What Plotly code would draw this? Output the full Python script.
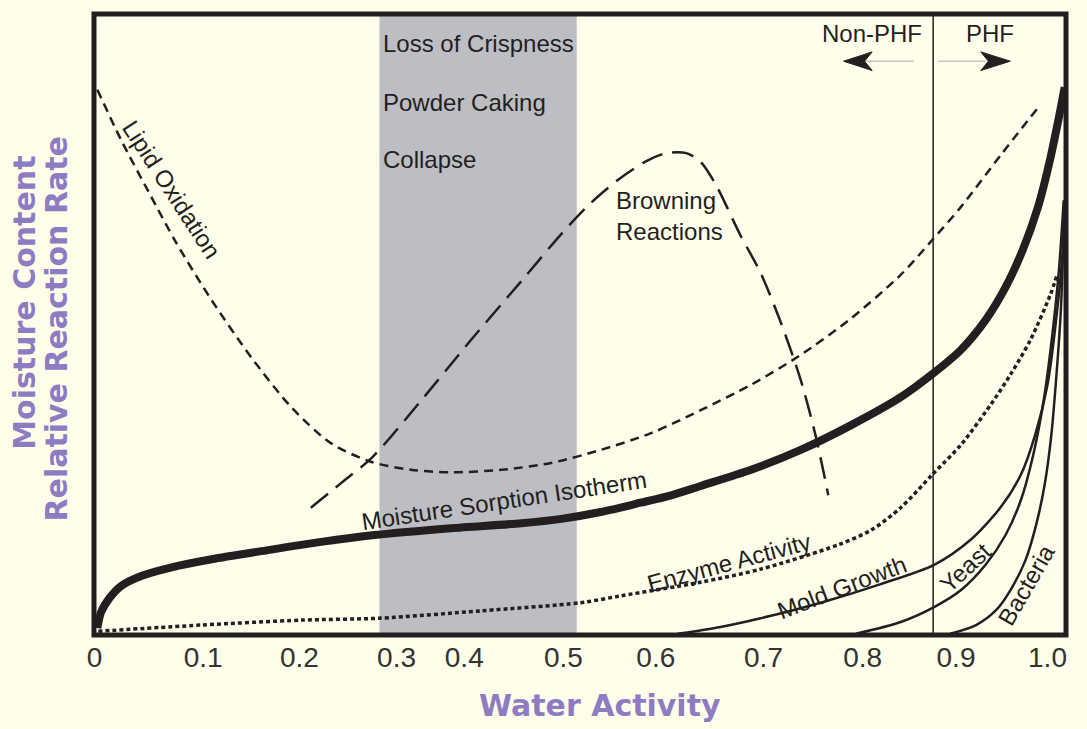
import plotly.graph_objects as go

# ---------------- data (x in water-activity axis position, y in relative units 0-100) ----
tick_vals = [0.0, 0.114, 0.215, 0.317, 0.388, 0.492, 0.589, 0.702, 0.806, 0.904, 1.0]
tick_text = ["0", "0.1", "0.2", "0.3", "0.4", "0.5", "0.6", "0.7", "0.8", "0.9", "1.0"]

iso_x = [0.003, 0.007, 0.016, 0.028, 0.049, 0.081, 0.123, 0.175, 0.238, 0.294, 0.374, 0.448,
         0.490, 0.531, 0.573, 0.605, 0.636, 0.689, 0.741, 0.794, 0.846, 0.879, 0.909, 0.935,
         0.956, 0.974, 0.990, 1.002, 1.012, 1.018]
iso_y = [1.1, 3.7, 6.0, 7.9, 9.5, 10.9, 12.2, 13.5, 15.0, 16.1, 17.2, 18.0,
         18.7, 19.8, 21.3, 22.5, 24.0, 26.6, 29.8, 33.8, 38.3, 42.0, 45.9, 50.7,
         56.0, 62.0, 68.9, 76.1, 83.4, 88.2]

lipid_x = [0.003, 0.028, 0.057, 0.086, 0.123, 0.165, 0.207, 0.248, 0.290, 0.332, 0.374, 0.427,
           0.479, 0.531, 0.584, 0.636, 0.689, 0.741, 0.794, 0.846, 0.879, 0.909, 0.951, 0.990]
lipid_y = [87.8, 79.7, 71.3, 63.1, 53.9, 44.6, 36.6, 30.9, 27.9, 26.6, 26.2, 26.6,
           27.7, 29.8, 32.5, 36.2, 40.3, 45.1, 51.0, 58.0, 63.6, 68.9, 77.3, 84.9]

brown_x = [0.227, 0.259, 0.292, 0.343, 0.395, 0.448, 0.490, 0.521, 0.552, 0.579, 0.600, 0.621,
           0.636, 0.652, 0.678, 0.699, 0.720, 0.741, 0.757, 0.770]
brown_y = [20.5, 24.5, 28.7, 37.8, 47.5, 57.0, 64.6, 69.6, 73.6, 76.3, 77.6, 77.6,
           76.2, 72.5, 64.3, 58.3, 50.4, 41.1, 31.9, 22.5]

enzyme_x = [0.004, 0.112, 0.217, 0.298, 0.406, 0.510, 0.552, 0.636, 0.699, 0.780, 0.815, 0.846,
            0.879, 0.909, 0.940, 0.961, 0.982, 1.003, 1.010]
enzyme_y = [0.6, 1.6, 2.4, 2.7, 3.9, 5.2, 6.3, 8.5, 10.6, 14.5, 16.9, 20.5,
            25.8, 30.6, 37.0, 41.9, 47.5, 54.8, 58.0]

mold_x = [0.612, 0.657, 0.699, 0.762, 0.825, 0.881, 0.919, 0.951, 0.972, 0.987, 1.000, 1.009,
          1.016, 1.018]
mold_y = [0.2, 1.3, 2.7, 5.2, 8.2, 11.3, 15.3, 20.6, 25.8, 32.2, 40.3, 50.7, 62.0, 70.0]

yeast_x = [0.799, 0.846, 0.881, 0.909, 0.935, 0.956, 0.972, 0.985, 0.996, 1.005, 1.012, 1.017]
yeast_y = [0.2, 2.1, 4.5, 7.2, 11.3, 16.1, 21.7, 29.0, 37.8, 48.3, 58.8, 70.0]

bact_x = [0.898, 0.925, 0.946, 0.961, 0.977, 0.988, 0.997, 1.004, 1.009, 1.014, 1.017]
bact_y = [0.2, 1.6, 4.0, 7.2, 12.1, 17.7, 24.2, 32.2, 41.1, 52.3, 65.2]

band_range = [0.299, 0.506]     # glassy/texture zone
phf_x = 0.880                   # PHF boundary

# ---------------- styling ----------------
BG = "#FFFEEB"
INK = "#231F20"
PURPLE = "#8E7CC3"
LBL = dict(family="Liberation Sans, Arial, sans-serif", size=24, color=INK)

fig = go.Figure()

def add_line(x, y, width, dash="solid", smoothing=0.8):
    fig.add_trace(go.Scatter(x=x, y=y, mode="lines",
                             line=dict(color=INK, width=width, dash=dash, shape="spline",
                                       smoothing=smoothing),
                             hoverinfo="skip", showlegend=False))

add_line(lipid_x, lipid_y, 2.5, "9px,6px")
add_line(brown_x, brown_y, 2.5, "22px,10px")
add_line(enzyme_x, enzyme_y, 3.5, "4px,3px")
add_line(mold_x, mold_y, 2.5)
add_line(yeast_x, yeast_y, 2.5)
add_line(bact_x, bact_y, 2.5)
add_line(iso_x, iso_y, 8)

# grey band
fig.add_shape(type="rect", xref="x", yref="y", x0=band_range[0], x1=band_range[1], y0=0, y1=100,
              fillcolor="#BDBEC3", line=dict(width=0), layer="below")
# PHF line
fig.add_shape(type="line", xref="x", yref="y", x0=phf_x, x1=phf_x, y0=0, y1=100,
              line=dict(color=INK, width=1.5))
# arrows: shafts
fig.add_shape(type="line", xref="x", yref="y", x0=0.803, x1=0.860, y0=92.4, y1=92.4,
              line=dict(color="#AAAAAA", width=1))
fig.add_shape(type="line", xref="x", yref="y", x0=0.885, x1=0.935, y0=92.4, y1=92.4,
              line=dict(color="#AAAAAA", width=1))
# arrow heads
fig.add_shape(type="path", xref="x", yref="y",
              path="M 0.786 92.4 L 0.816 93.9 L 0.808 92.4 L 0.816 90.9 Z",
              fillcolor=INK, line=dict(color=INK, width=1))
fig.add_shape(type="path", xref="x", yref="y",
              path="M 0.961 92.4 L 0.930 93.9 L 0.938 92.4 L 0.930 90.9 Z",
              fillcolor=INK, line=dict(color=INK, width=1))
# frame
fig.add_shape(type="rect", xref="paper", yref="paper", x0=0, x1=1, y0=0, y1=1,
              line=dict(color=INK, width=5), layer="above")

def label(text, x, y, angle=0, xanchor="center", align="center"):
    fig.add_annotation(x=x, y=y, xref="x", yref="y", text=text, showarrow=False,
                       textangle=angle, xanchor=xanchor, yanchor="middle", align=align, font=LBL)

label("Loss of Crispness", 0.301, 95.2, xanchor="left")
label("Powder Caking", 0.301, 85.7, xanchor="left")
label("Collapse", 0.301, 76.5, xanchor="left")
label("Browning<br>Reactions", 0.545, 67.5, xanchor="left", align="left")
label("Lipid Oxidation", 0.081, 71.7, angle=57)
label("Moisture Sorption Isotherm", 0.430, 21.7, angle=-8.5)
label("Enzyme Activity", 0.666, 11.6, angle=-15)
label("Mold Growth", 0.784, 7.6, angle=-21)
label("Yeast", 0.914, 10.8, angle=-43)
label("Bacteria", 0.978, 8.1, angle=-60)
label("Non-PHF", 0.816, 96.9)
label("PHF", 0.940, 96.9)

TITLE = dict(family="DejaVu Sans, sans-serif", size=30, color=PURPLE)
for txt, px, py, ang in [("<b>Moisture Content</b>", -0.071, 0.535, -90),
                         ("<b>Relative Reaction Rate</b>", -0.039, 0.4936, -90),
                         ("<b>Water Activity</b>", 0.5206, -0.114, 0)]:
    fig.add_annotation(xref="paper", yref="paper", x=px, y=py, text=txt, textangle=ang,
                       xanchor="center", yanchor="middle", showarrow=False, font=TITLE)

fig.update_layout(
    width=1087, height=729,
    margin=dict(l=94, r=21, t=14, b=94),
    paper_bgcolor=BG, plot_bgcolor=BG,
    showlegend=False,
    xaxis=dict(range=[-0.0005, 1.0194], tickvals=tick_vals, ticktext=tick_text, showgrid=False,
               zeroline=False, showline=False, ticks="", ticklabelstandoff=3,
               tickfont=dict(family="Liberation Sans Narrow, Arial Narrow, Liberation Sans, sans-serif",
                             size=28, color="#333333")),
    yaxis=dict(range=[0, 100], showticklabels=False, showgrid=False, zeroline=False,
               showline=False, ticks=""),
)

fig.write_html("out.html", config={"displayModeBar": False},
               post_script="document.body.style.margin='0px';document.body.style.background='" + BG + "';")
